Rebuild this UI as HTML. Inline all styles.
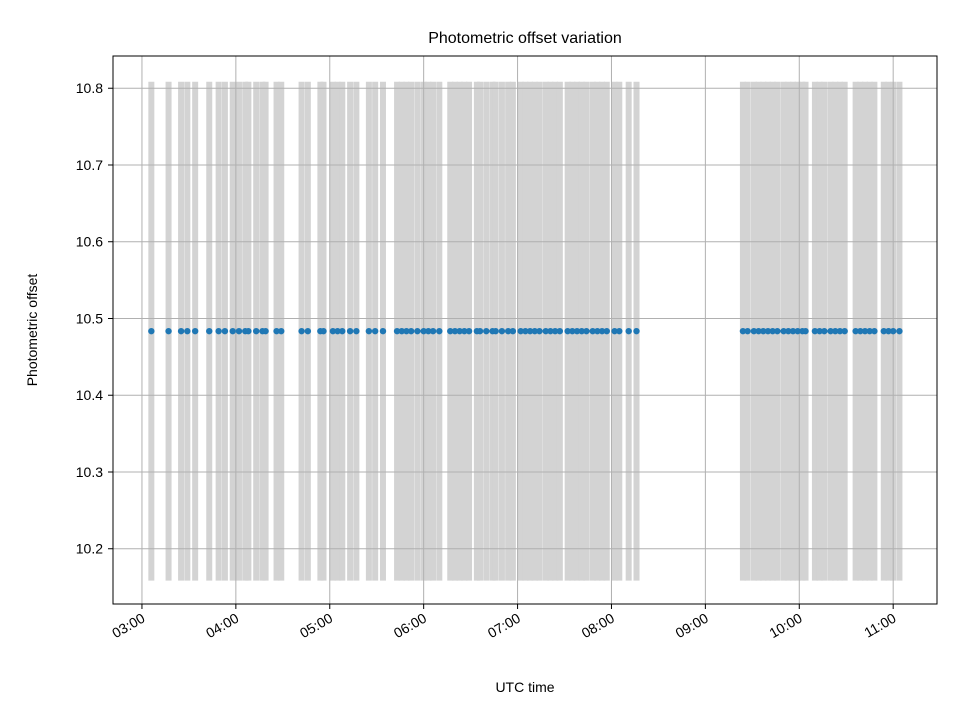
<!DOCTYPE html>
<html><head><meta charset="utf-8"><style>
body{margin:0;background:#fff}
svg text{font-family:"Liberation Sans","DejaVu Sans",sans-serif;fill:#000}
</style></head><body>
<svg id="chart" width="960" height="720" xmlns="http://www.w3.org/2000/svg">
<rect width="960" height="720" fill="#fff"/>
<g id="bars"></g><g id="grid"></g><g id="pts"></g><g id="axes"></g>
<text x="525" y="43" font-size="16" text-anchor="middle">Photometric offset variation</text>
<text x="525" y="692" font-size="14" text-anchor="middle">UTC time</text>
<text transform="translate(37,330) rotate(-90)" font-size="14" text-anchor="middle">Photometric offset</text>
</svg>
<script>
// times in minutes past 00:00 UTC
const times=[186,197,205,209,214,223,229,233,238,242,246,248,253,257,259,266,269,282,286,294,296,302,305,308,313,317,325,329,334,343,346,349,352,356,360,363,366,370,377,380,383,386,389,394,396,400,404,406,410,414,417,422,425,428,431,434,438,441,444,447,452,455,458,461,464,468,471,474,477,482,485,491,496,564,567,571,574,577,580,583,586,590,593,596,599,602,604,610,613,616,620,623,626,629,636,639,642,645,648,654,657,660,664];
const offsetValue=10.4835;
const offsetErr=0.325;
const xTickMinutes=[180,240,300,360,420,480,540,600,660];
const xTickLabels=["03:00","04:00","05:00","06:00","07:00","08:00","09:00","10:00","11:00"];
const yTicks=[10.2,10.3,10.4,10.5,10.6,10.7,10.8];
const X0=113,X1=937,Y0=56,Y1=604;
const xmin=161.5,xmax=688,ymin=10.128,ymax=10.842;
const sx=v=>X0+(v-xmin)/(xmax-xmin)*(X1-X0);
const sy=v=>Y1-(v-ymin)/(ymax-ymin)*(Y1-Y0);
const NS="http://www.w3.org/2000/svg";
function mk(tag,attrs,parent){const e=document.createElementNS(NS,tag);for(const k in attrs)e.setAttribute(k,attrs[k]);parent.appendChild(e);return e;}
const grid=document.getElementById('grid'),bars=document.getElementById('bars'),pts=document.getElementById('pts'),axes=document.getElementById('axes');
xTickMinutes.forEach((m,i)=>{const x=sx(m);
 const g=mk('line',{x1:x,x2:x,y1:Y0,y2:Y1,stroke:'#b0b0b0','stroke-width':1},grid);
 
 
 mk('line',{x1:x,x2:x,y1:Y1,y2:Y1+5,stroke:'#000'},axes);
 const t=mk('text',{x:0,y:0,'font-size':14,'text-anchor':'end',transform:`translate(${x+4},${Y1+17}) rotate(-30)`},axes);
 t.textContent=xTickLabels[i];
 
 
});
yTicks.forEach(v=>{const y=sy(v);
 const g=mk('line',{x1:X0,x2:X1,y1:y,y2:y,stroke:'#b0b0b0','stroke-width':1},grid);
 
 
 mk('line',{x1:X0-5,x2:X0,y1:y,y2:y,stroke:'#000'},axes);
 const t=mk('text',{x:X0-10,y:y+5,'font-size':14,'text-anchor':'end'},axes);
 t.textContent=v.toFixed(1);
 
 
});
times.forEach(m=>{const x=sx(m);
 const b=mk('line',{x1:x,x2:x,y1:sy(offsetValue+offsetErr),y2:sy(offsetValue-offsetErr),stroke:'#d3d3d3','stroke-width':6},bars);
 
 
});
times.forEach(m=>{
 const c=mk('circle',{cx:sx(m),cy:sy(offsetValue),r:3.2,fill:'#1f77b4'},pts);
 
 
});
const f=mk('rect',{x:X0,y:Y0,width:X1-X0,height:Y1-Y0,fill:'none',stroke:'#000','stroke-width':1},axes);


</script>
</body></html>
